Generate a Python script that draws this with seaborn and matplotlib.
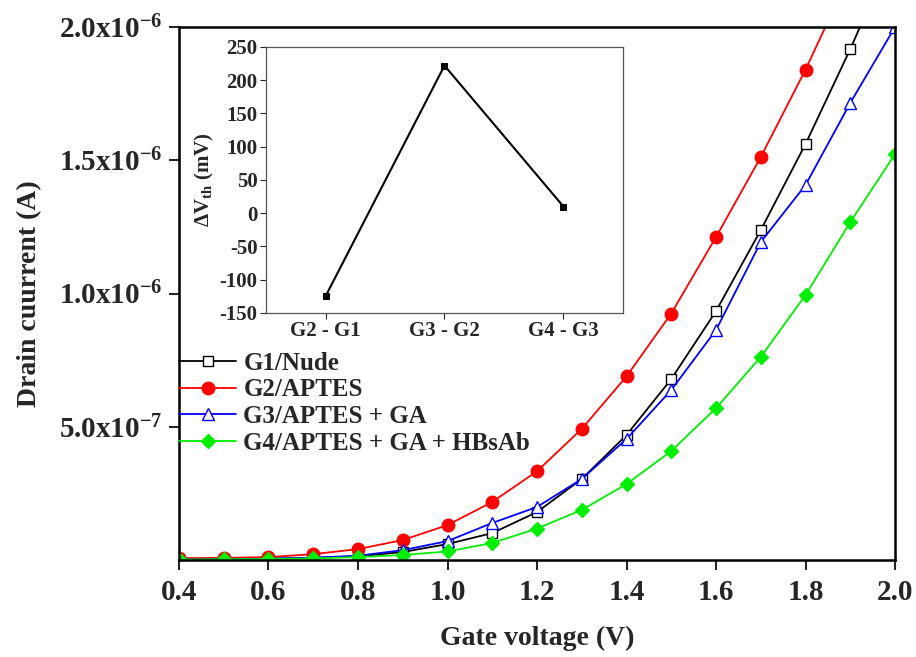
import numpy as np
import pandas as pd
import matplotlib
matplotlib.use('Agg')
import matplotlib.pyplot as plt
import seaborn as sns

#%% data
voltage = [0.4, 0.5, 0.6, 0.7, 0.8, 0.9, 1.0, 1.1, 1.2, 1.3, 1.4, 1.5, 1.6, 1.7, 1.8, 1.9, 2.0]
g1_nude = [0.002, 0.003, 0.005, 0.008, 0.014, 0.030, 0.060, 0.101, 0.180, 0.304, 0.469, 0.679,
           0.934, 1.238, 1.561, 1.917, 2.30]
g2_aptes = [0.007, 0.008, 0.011, 0.022, 0.041, 0.075, 0.131, 0.218, 0.333, 0.492, 0.689, 0.925,
            1.212, 1.512, 1.84, 2.20, 2.60]
g3_ga = [0.002, 0.003, 0.005, 0.009, 0.016, 0.037, 0.071, 0.139, 0.199, 0.304, 0.454, 0.638,
         0.863, 1.193, 1.407, 1.715, 2.00]
g4_hbsab = [0.002, 0.003, 0.004, 0.006, 0.011, 0.019, 0.032, 0.064, 0.118, 0.188, 0.285, 0.409,
            0.570, 0.762, 0.994, 1.268, 1.523]

pairs = ['G2 - G1', 'G3 - G2', 'G4 - G3']
delta_vth = [-125, 222, 10]

yticks = [5e-7, 1e-6, 1.5e-6, 2e-6]
ytick_labels = ['5.0x10$^{-7}$', '1.0x10$^{-6}$', '1.5x10$^{-6}$', '2.0x10$^{-6}$']

#%% style
sns.set_style('ticks')
plt.rcParams['font.family'] = ['Liberation Serif', 'DejaVu Serif']
plt.rcParams['font.weight'] = 'bold'
plt.rcParams['axes.unicode_minus'] = False
plt.rcParams['mathtext.fontset'] = 'custom'
plt.rcParams['mathtext.rm'] = 'Liberation Serif:bold'
plt.rcParams['mathtext.it'] = 'Liberation Serif:bold'
plt.rcParams['mathtext.bf'] = 'Liberation Serif:bold'
plt.rcParams['mathtext.default'] = 'rm'

series = [
    ('G1/Nude', g1_nude, 'black', 's', 'white', 7.5),
    ('G2/APTES', g2_aptes, '#FF0000', 'o', '#FF0000', 9),
    ('G3/APTES + GA', g3_ga, '#0000FF', '^', 'white', 9),
    ('G4/APTES + GA + HBsAb', g4_hbsab, '#00EE00', 'D', '#00EE00', 7.5),
]

fig = plt.figure(figsize=(9.16, 6.57), dpi=100)
ax = fig.add_axes([0.1954, 0.1476, 0.7817, 0.8113])

for name, vals, col, mk, mfc, ms in series:
    df = pd.DataFrame({'V': voltage, 'I': np.array(vals) * 1e-6})
    sns.lineplot(data=df, x='V', y='I', ax=ax, color=col, marker=mk, markersize=ms,
                 markerfacecolor=mfc, markeredgecolor=col, markeredgewidth=1.0,
                 linewidth=1.3, label=name)

ax.set_xlim(0.4, 2.0)
ax.set_ylim(0, 2e-6)
ax.set_xticks(np.arange(0.4, 2.01, 0.2))
ax.set_xticklabels([f'{v:.1f}' for v in np.arange(0.4, 2.01, 0.2)])
ax.set_yticks(yticks)
ax.set_yticklabels(ytick_labels)
ax.tick_params(direction='out', length=7, width=1.5, labelsize=21)
ax.tick_params(axis='x', pad=7)
ax.tick_params(axis='y', pad=5)
for s in ax.spines.values():
    s.set_linewidth(1.8)
    s.set_color('black')
ax.set_xlabel('Gate voltage (V)', fontsize=20, fontweight='bold', labelpad=14)
ax.set_ylabel('Drain cuurrent (A)', fontsize=20, fontweight='bold', labelpad=12)

leg = ax.legend(loc='upper left', bbox_to_anchor=(0.0, 0.391), frameon=False,
                fontsize=18, handlelength=2.3, handletextpad=0.28, labelspacing=0.15,
                borderaxespad=0, borderpad=0)

#%% inset
ins = fig.add_axes([0.2904, 0.5236, 0.3897, 0.4049])
sns.lineplot(x=range(len(pairs)), y=delta_vth, ax=ins, color='black', marker='s',
             markersize=5, markeredgecolor='black', linewidth=1.5)
ins.set_xlim(-0.5, 2.5)
ins.set_ylim(-150, 250)
ins.set_yticks(np.arange(-150, 251, 50))
ins.set_xticks(range(len(pairs)))
ins.set_xticklabels(pairs)
ins.tick_params(direction='out', length=4, width=0.8, labelsize=15, pad=2)
for s in ins.spines.values():
    s.set_linewidth(0.9)
    s.set_color('#555555')
ins.set_ylabel(r'$\Delta$V$_{th}$ (mV)', fontsize=15, fontweight='bold', labelpad=3)

fig.savefig('out.png', dpi=100)
